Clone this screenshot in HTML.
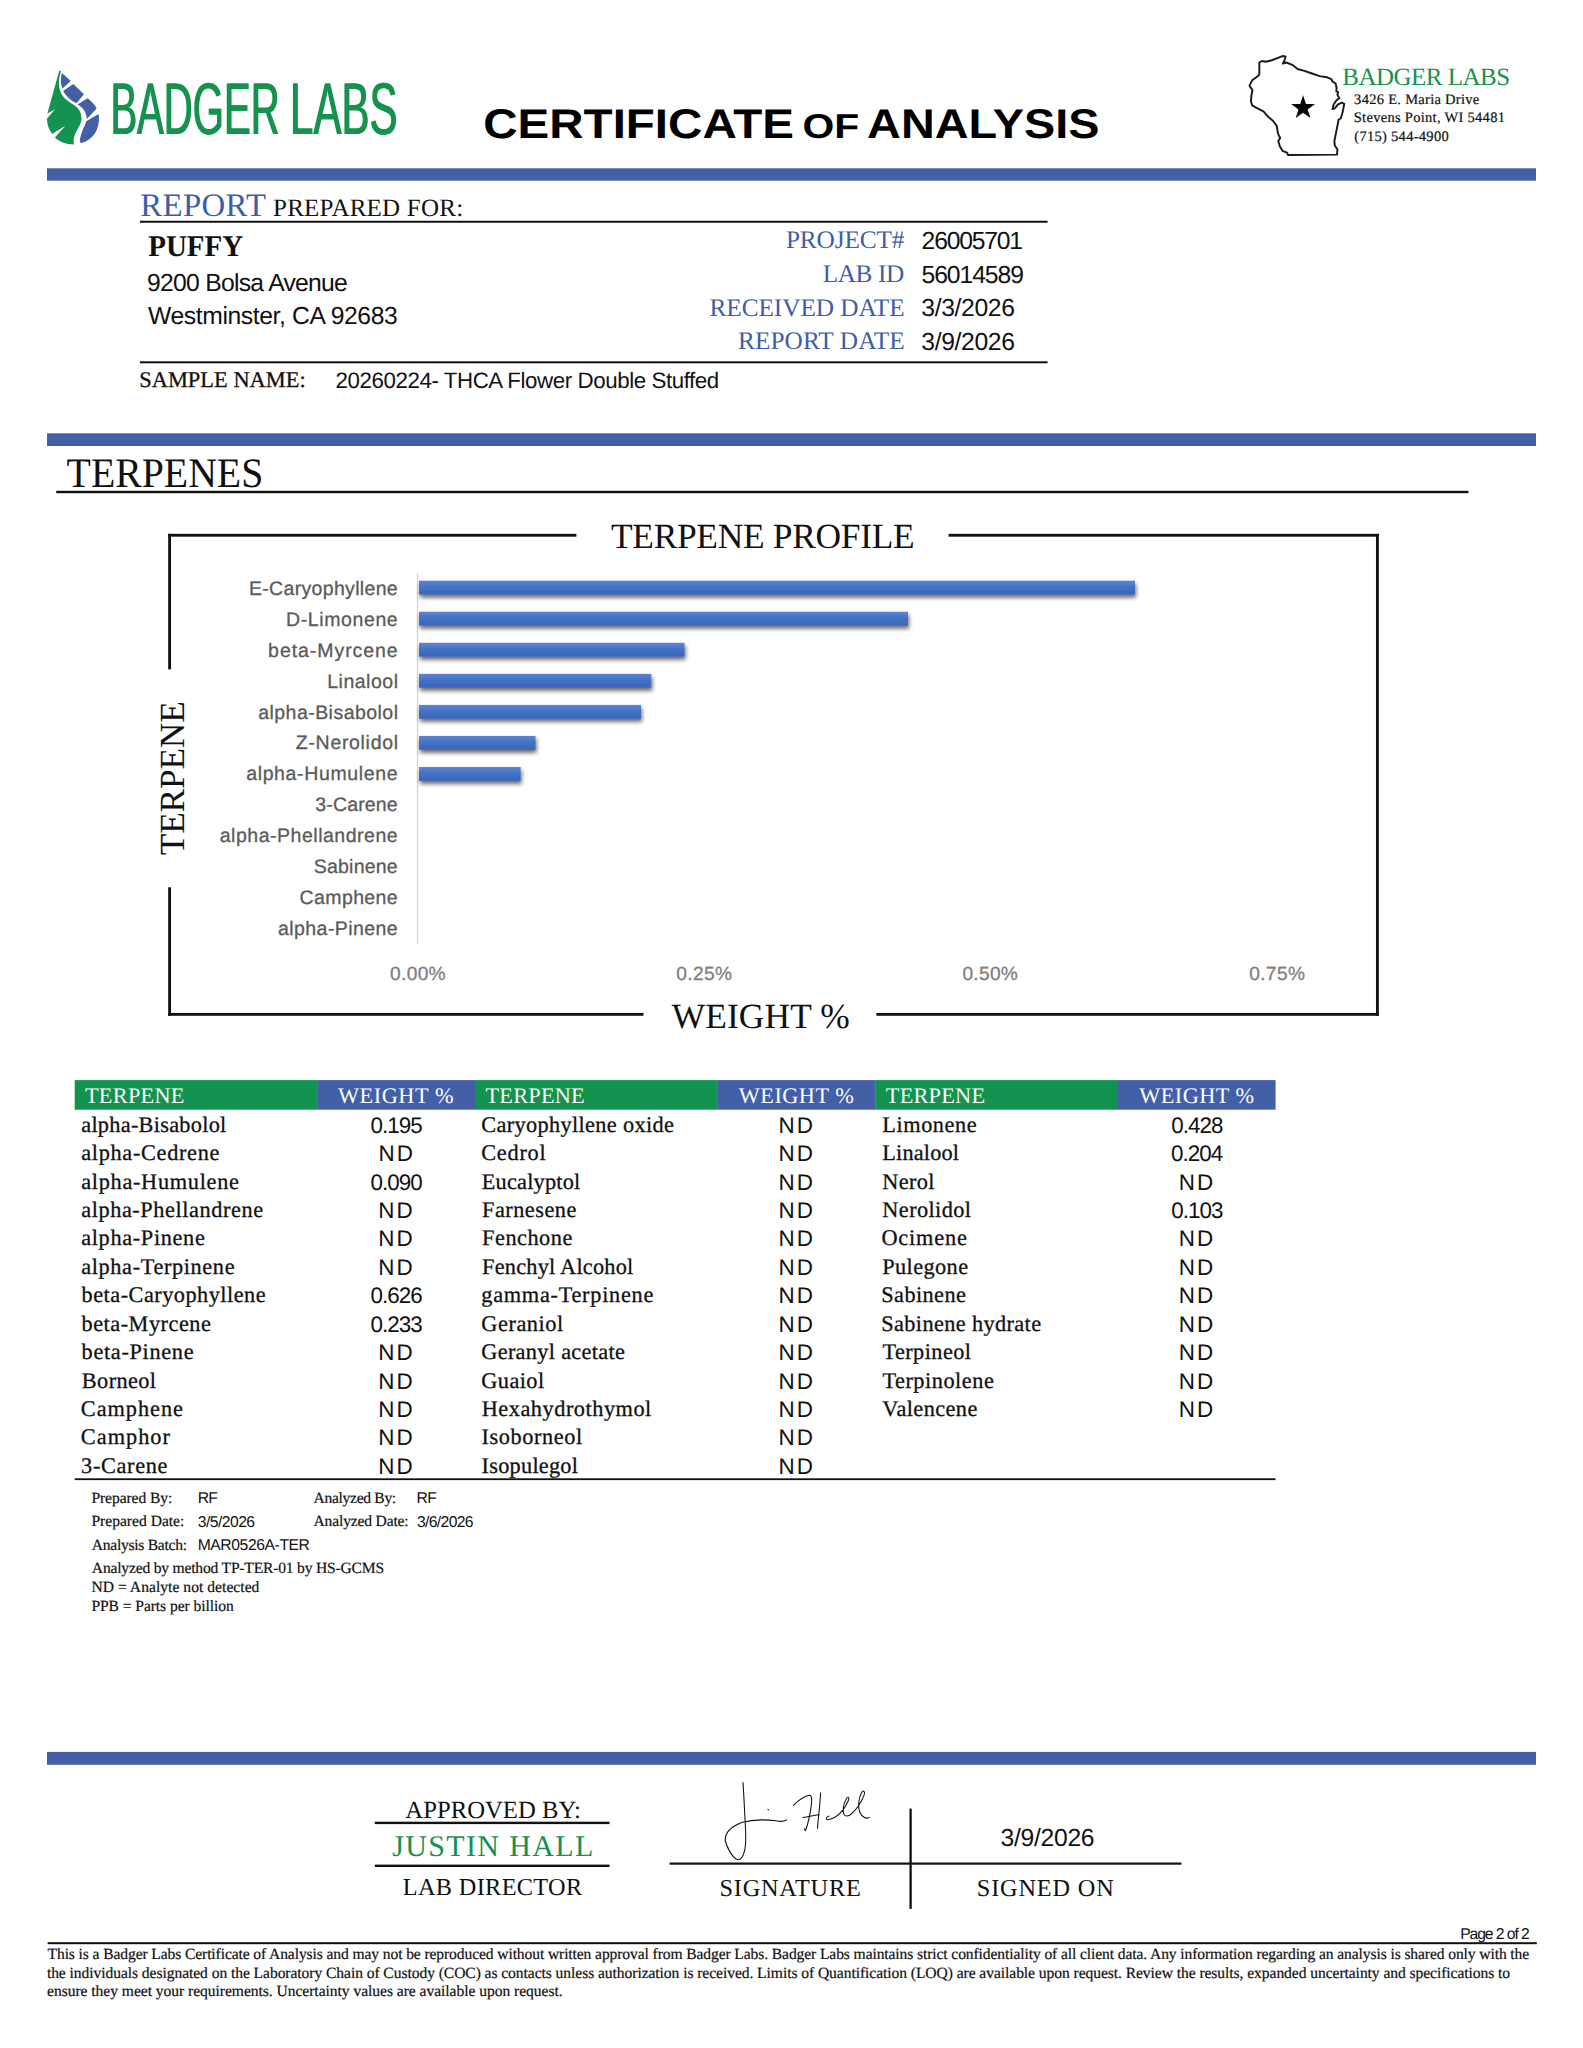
<!DOCTYPE html>
<html lang="en"><head><meta charset="utf-8"><title>Badger Labs - Certificate of Analysis</title>
<style>
html,body{margin:0;padding:0;background:#fff}
body{width:1583px;height:2048px;overflow:hidden}
svg{display:block}
text{white-space:pre;text-rendering:geometricPrecision}
</style></head><body>
<svg width="1583" height="2048" viewBox="0 0 1583 2048">
<defs>
<linearGradient id="bg" x1="0" y1="0" x2="0" y2="1"><stop offset="0" stop-color="#5d86d3"/><stop offset="0.45" stop-color="#4472c4"/><stop offset="1" stop-color="#3a66b9"/></linearGradient>
<filter id="sh" x="-5%" y="-50%" width="110%" height="250%"><feGaussianBlur in="SourceAlpha" stdDeviation="2.2"/><feOffset dx="0.5" dy="3.0" result="o"/><feComponentTransfer><feFuncA type="linear" slope="0.6"/></feComponentTransfer><feMerge><feMergeNode/><feMergeNode in="SourceGraphic"/></feMerge></filter>
<filter id="thick" x="-2%" y="-10%" width="104%" height="120%"><feOffset in="SourceGraphic" dx="1.9" dy="0" result="o"/><feMerge><feMergeNode in="o"/><feMergeNode in="SourceGraphic"/></feMerge></filter>
</defs>
<rect x="47" y="168.3" width="1489" height="12.4" fill="#4360a7"/>
<rect x="47" y="433.3" width="1489" height="12.7" fill="#4360a7"/>
<rect x="47" y="1751.9" width="1489" height="12.9" fill="#4360a7"/>
<rect x="139.9" y="220.75" width="907.70" height="2.0" fill="#111"/>
<rect x="139.9" y="361.30" width="907.70" height="2.0" fill="#111"/>
<rect x="56.2" y="490.80" width="1412.30" height="2.4" fill="#111"/>
<rect x="168.2" y="533.83" width="408.20" height="2.85" fill="#111"/>
<rect x="948.6" y="533.83" width="430.25" height="2.85" fill="#111"/>
<rect x="168.17" y="533.85" width="2.85" height="135.55" fill="#111"/>
<rect x="168.17" y="887.3" width="2.85" height="128.50" fill="#111"/>
<rect x="168.2" y="1012.93" width="475.30" height="2.85" fill="#111"/>
<rect x="876.4" y="1012.93" width="502.45" height="2.85" fill="#111"/>
<rect x="1375.98" y="533.85" width="2.85" height="481.95" fill="#111"/>
<rect x="416.85" y="572.8" width="1.3" height="371.20" fill="#d6d6d6"/>
<g filter="url(#sh)">
<rect x="419" y="580.70" width="716.02" height="13.9" fill="url(#bg)"/>
<rect x="419" y="611.75" width="489.07" height="13.9" fill="url(#bg)"/>
<rect x="419" y="642.80" width="265.56" height="13.9" fill="url(#bg)"/>
<rect x="419" y="673.85" width="232.32" height="13.9" fill="url(#bg)"/>
<rect x="419" y="704.90" width="222.01" height="13.9" fill="url(#bg)"/>
<rect x="419" y="735.95" width="116.56" height="13.9" fill="url(#bg)"/>
<rect x="419" y="767.00" width="101.66" height="13.9" fill="url(#bg)"/>
</g>
<rect x="74.70" y="1080.1" width="242.80" height="29.6" fill="#14924f"/>
<rect x="317.20" y="1080.1" width="158.10" height="29.6" fill="#4360a7"/>
<rect x="475.00" y="1080.1" width="242.80" height="29.6" fill="#14924f"/>
<rect x="717.50" y="1080.1" width="158.10" height="29.6" fill="#4360a7"/>
<rect x="875.30" y="1080.1" width="242.80" height="29.6" fill="#14924f"/>
<rect x="1117.80" y="1080.1" width="157.80" height="29.6" fill="#4360a7"/>
<rect x="74.7" y="1478.30" width="1200.80" height="1.8" fill="#111"/>
<rect x="374.8" y="1821.70" width="234.70" height="2.4" fill="#111"/>
<rect x="374.8" y="1864.60" width="234.70" height="2.4" fill="#111"/>
<rect x="669.6" y="1862.50" width="511.90" height="2.2" fill="#111"/>
<rect x="909.45" y="1808.6" width="2.3" height="100.30" fill="#111"/>
<rect x="47.6" y="1942.20" width="1489.20" height="2.0" fill="#111"/>
<g transform="translate(30,55) scale(0.063171)">
<path fill="#14924f" d="M465,240 L275,925 L395,858 L268,1008 C270,1100 300,1180 350,1250 L560,1118 L395,1305 C470,1380 580,1415 695,1415 C680,1340 700,1280 730,1220 C770,1140 815,1080 815,1000 C815,900 760,830 700,795 C620,745 540,690 500,620 C460,550 450,450 462,380 C470,330 480,290 490,262 Z"/>
<path fill="#4360a7" d="M505,285 L645,412 L515,532 C485,470 478,390 505,285 Z"/>
<path fill="#4360a7" d="M685,460 L855,620 L735,765 C640,720 570,650 525,570 Z"/>
<path fill="#4360a7" d="M910,685 C980,740 1030,790 1055,845 L900,1012 C890,900 840,830 752,782 Z"/>
<path fill="#4360a7" d="M1085,935 C1100,1000 1095,1080 1060,1180 C1020,1280 920,1370 810,1395 C780,1380 790,1330 810,1260 C840,1160 880,1100 890,1050 Z"/>
</g>
<g transform="translate(1240,50) scale(0.075815)">
<path d="M255,165 L290,145 L340,155 L420,135 L500,105 L560,80 L600,85 L590,130 L565,180 L610,165 L690,195 L760,250 L850,275 L950,310 L1050,345 L1150,360 L1205,385 L1220,415 L1260,440 L1275,500 L1270,545 L1295,555 L1285,590 L1310,635 L1270,665 L1235,720 L1220,780 L1250,770 L1290,720 L1340,695 L1375,710 L1360,790 L1345,850 L1330,900 L1300,920 L1285,1000 L1265,1100 L1245,1200 L1250,1260 L1285,1310 L1280,1380 L635,1385 L620,1355 L560,1330 L525,1270 L505,1200 L530,1160 L500,1100 L485,1000 L440,940 L360,870 L310,810 L230,770 L160,730 L145,680 L150,600 L165,530 L125,470 L160,400 L230,350 L255,320 L255,250 Z" fill="none" stroke="#1a1a1a" stroke-width="25.5" stroke-linejoin="round"/>
<polygon points="832.0,598.0 869.3,712.7 989.9,712.7 892.3,783.6 929.6,898.3 832.0,827.4 734.4,898.3 771.7,783.6 674.1,712.7 794.7,712.7" fill="#000"/>
</g>
<g transform="translate(700,1770) scale(0.126342)" fill="none" stroke="#111" stroke-width="8.5" stroke-linecap="round" stroke-linejoin="round">
<path d="M340,100 C348,200 352,320 358,420 C364,520 368,600 350,650 C338,690 320,712 300,710 C260,700 215,620 200,560 C195,500 240,450 330,415 C420,390 520,392 600,402 C640,410 670,405 685,395"/>
<path d="M538,312 L542,314"/>
<path d="M740,280 C780,240 830,205 865,200 C890,200 885,250 878,300 C868,370 850,440 835,480 L825,465"/>
<path d="M815,376 C860,368 900,360 942,354"/>
<path d="M955,180 C950,260 942,340 935,400 L930,460"/>
<path d="M1020,365 C1000,372 992,390 1008,394 C1030,392 1050,384 1065,376 C1110,352 1150,300 1175,240 C1185,215 1172,208 1160,225 C1135,265 1125,320 1140,352 C1150,370 1175,366 1195,350 C1240,312 1280,250 1300,195 C1308,165 1292,155 1278,180 C1255,225 1248,290 1265,335 C1280,370 1315,392 1340,375"/>
</g>
<g id="texts">
<text transform="translate(109.90,133.80) scale(0.5459,1)" filter="url(#thick)" style="font:400 73.4px 'Liberation Sans', sans-serif;fill:#14924f">BADGER</text>
<text transform="translate(289.53,133.80) scale(0.5725,1)" filter="url(#thick)" style="font:400 73.4px 'Liberation Sans', sans-serif;fill:#14924f">LABS</text>
<text transform="translate(483.27,138.10) scale(1.1481,1)" style="font:700 41.4px 'Liberation Sans', sans-serif;fill:#000">CERTIFICATE</text>
<text transform="translate(802.48,138.10) scale(1.1835,1)" style="font:700 34.5px 'Liberation Sans', sans-serif;fill:#000">OF</text>
<text transform="translate(867.08,138.10) scale(1.1313,1)" style="font:700 41.4px 'Liberation Sans', sans-serif;fill:#000">ANALYSIS</text>
<text x="1342.33" y="84.70" style="font:400 25.0px 'Liberation Serif', serif;fill:#14924f;letter-spacing:-0.521px">BADGER LABS</text>
<text x="1354.12" y="103.60" style="font:400 14.5px 'Liberation Serif', serif;fill:#111;stroke:#111;stroke-width:0.2px;letter-spacing:0.287px">3426 E. Maria Drive</text>
<text x="1353.72" y="122.00" style="font:400 14.5px 'Liberation Serif', serif;fill:#111;stroke:#111;stroke-width:0.2px;letter-spacing:0.296px">Stevens Point, WI 54481</text>
<text x="1354.27" y="140.90" style="font:400 14.5px 'Liberation Serif', serif;fill:#111;stroke:#111;stroke-width:0.2px;letter-spacing:0.292px">(715) 544-4900</text>
<text x="140.17" y="215.70" style="font:400 32.8px 'Liberation Serif', serif;fill:#3f5da7;letter-spacing:0.405px">REPORT</text>
<text x="273.00" y="215.70" style="font:400 25.0px 'Liberation Serif', serif;fill:#111;letter-spacing:0.230px">PREPARED FOR:</text>
<text transform="translate(148.20,255.80) scale(0.9667,1)" style="font:700 30.0px 'Liberation Serif', serif;fill:#111">PUFFY</text>
<text x="147.03" y="290.70" style="font:400 24.7px 'Liberation Sans', sans-serif;fill:#111;letter-spacing:-0.720px">9200 Bolsa Avenue</text>
<text x="147.98" y="323.50" style="font:400 24.7px 'Liberation Sans', sans-serif;fill:#111;letter-spacing:-0.385px">Westminster, CA 92683</text>
<text x="139.27" y="387.20" style="font:400 22.4px 'Liberation Serif', serif;fill:#111;stroke:#111;stroke-width:0.3px;letter-spacing:0.025px">SAMPLE NAME:</text>
<text x="335.57" y="388.20" style="font:400 22.3px 'Liberation Sans', sans-serif;fill:#111;letter-spacing:-0.418px">20260224- THCA Flower Double Stuffed</text>
<text x="785.96" y="248.30" style="font:400 25.3px 'Liberation Serif', serif;fill:#3f5da7;letter-spacing:-0.156px">PROJECT#</text>
<text x="822.70" y="282.10" style="font:400 25.3px 'Liberation Serif', serif;fill:#3f5da7;letter-spacing:-0.404px">LAB ID</text>
<text x="709.46" y="315.90" style="font:400 25.3px 'Liberation Serif', serif;fill:#3f5da7;letter-spacing:-0.070px">RECEIVED DATE</text>
<text x="737.96" y="349.40" style="font:400 25.3px 'Liberation Serif', serif;fill:#3f5da7;letter-spacing:0.071px">REPORT DATE</text>
<text x="921.61" y="249.00" style="font:400 24.7px 'Liberation Sans', sans-serif;fill:#111;letter-spacing:-1.209px">26005701</text>
<text x="921.56" y="282.80" style="font:400 24.7px 'Liberation Sans', sans-serif;fill:#111;letter-spacing:-1.076px">56014589</text>
<text x="921.34" y="316.20" style="font:400 24.7px 'Liberation Sans', sans-serif;fill:#111;letter-spacing:-0.362px">3/3/2026</text>
<text x="921.34" y="350.00" style="font:400 24.7px 'Liberation Sans', sans-serif;fill:#111;letter-spacing:-0.362px">3/9/2026</text>
<text transform="translate(66.59,487.10) scale(0.9471,1)" style="font:400 42.0px 'Liberation Serif', serif;fill:#111">TERPENES</text>
<text x="610.99" y="548.00" style="font:400 35.4px 'Liberation Serif', serif;fill:#111;letter-spacing:-0.286px">TERPENE PROFILE</text>
<text x="671.76" y="1027.70" style="font:400 35.4px 'Liberation Serif', serif;fill:#111;letter-spacing:0.103px">WEIGHT %</text>
<text transform="translate(184.10,854.60) rotate(-90)" x="-0.55" y="0" style="font:400 35.3px 'Liberation Serif', serif;fill:#111;letter-spacing:-0.177px">TERPENE</text>
<text x="248.96" y="594.80" style="font:400 19.5px 'Liberation Sans', sans-serif;fill:#5a5a5a;stroke:#5a5a5a;stroke-width:0.3px;letter-spacing:0.327px">E-Caryophyllene</text>
<text x="286.11" y="625.73" style="font:400 19.5px 'Liberation Sans', sans-serif;fill:#5a5a5a;stroke:#5a5a5a;stroke-width:0.3px;letter-spacing:0.593px">D-Limonene</text>
<text x="268.10" y="656.66" style="font:400 19.5px 'Liberation Sans', sans-serif;fill:#5a5a5a;stroke:#5a5a5a;stroke-width:0.3px;letter-spacing:0.942px">beta-Myrcene</text>
<text x="327.22" y="687.59" style="font:400 19.5px 'Liberation Sans', sans-serif;fill:#5a5a5a;stroke:#5a5a5a;stroke-width:0.3px;letter-spacing:0.509px">Linalool</text>
<text x="258.17" y="718.52" style="font:400 19.5px 'Liberation Sans', sans-serif;fill:#5a5a5a;stroke:#5a5a5a;stroke-width:0.3px;letter-spacing:0.465px">alpha-Bisabolol</text>
<text x="295.86" y="749.45" style="font:400 19.5px 'Liberation Sans', sans-serif;fill:#5a5a5a;stroke:#5a5a5a;stroke-width:0.3px;letter-spacing:0.680px">Z-Nerolidol</text>
<text x="246.17" y="780.38" style="font:400 19.5px 'Liberation Sans', sans-serif;fill:#5a5a5a;stroke:#5a5a5a;stroke-width:0.3px;letter-spacing:0.647px">alpha-Humulene</text>
<text x="315.25" y="811.31" style="font:400 19.5px 'Liberation Sans', sans-serif;fill:#5a5a5a;stroke:#5a5a5a;stroke-width:0.3px;letter-spacing:0.162px">3-Carene</text>
<text x="219.75" y="842.24" style="font:400 19.5px 'Liberation Sans', sans-serif;fill:#5a5a5a;stroke:#5a5a5a;stroke-width:0.3px;letter-spacing:0.517px">alpha-Phellandrene</text>
<text x="313.77" y="873.17" style="font:400 19.5px 'Liberation Sans', sans-serif;fill:#5a5a5a;stroke:#5a5a5a;stroke-width:0.3px;letter-spacing:0.214px">Sabinene</text>
<text x="299.62" y="904.10" style="font:400 19.5px 'Liberation Sans', sans-serif;fill:#5a5a5a;stroke:#5a5a5a;stroke-width:0.3px;letter-spacing:0.379px">Camphene</text>
<text x="278.05" y="935.03" style="font:400 19.5px 'Liberation Sans', sans-serif;fill:#5a5a5a;stroke:#5a5a5a;stroke-width:0.3px;letter-spacing:0.427px">alpha-Pinene</text>
<text x="390.09" y="980.40" style="font:400 19.15px 'Liberation Sans', sans-serif;fill:#7f7f7f;stroke:#7f7f7f;stroke-width:0.3px;letter-spacing:0.320px">0.00%</text>
<text x="676.15" y="980.40" style="font:400 19.15px 'Liberation Sans', sans-serif;fill:#7f7f7f;stroke:#7f7f7f;stroke-width:0.3px;letter-spacing:0.386px">0.25%</text>
<text x="962.39" y="980.40" style="font:400 19.15px 'Liberation Sans', sans-serif;fill:#7f7f7f;stroke:#7f7f7f;stroke-width:0.3px;letter-spacing:0.299px">0.50%</text>
<text x="1249.16" y="980.40" style="font:400 19.15px 'Liberation Sans', sans-serif;fill:#7f7f7f;stroke:#7f7f7f;stroke-width:0.3px;letter-spacing:0.371px">0.75%</text>
<text x="370.38" y="1132.80" style="font:400 22.4px 'Liberation Sans', sans-serif;fill:#111;letter-spacing:-0.938px">0.195</text>
<text x="378.45" y="1161.30" style="font:400 22.4px 'Liberation Sans', sans-serif;fill:#111;letter-spacing:2.095px">ND</text>
<text x="84.92" y="1103.40" style="font:400 22.3px 'Liberation Serif', serif;fill:#fff;letter-spacing:0.286px">TERPENE</text>
<text x="338.03" y="1103.40" style="font:400 22.3px 'Liberation Serif', serif;fill:#fff;letter-spacing:0.540px">WEIGHT %</text>
<text x="81.23" y="1131.80" style="font:400 22.3px 'Liberation Serif', serif;fill:#111;stroke:#111;stroke-width:0.3px;letter-spacing:0.278px">alpha-Bisabolol</text>
<text x="81.23" y="1160.22" style="font:400 22.3px 'Liberation Serif', serif;fill:#111;stroke:#111;stroke-width:0.3px;letter-spacing:0.685px">alpha-Cedrene</text>
<text x="81.23" y="1188.64" style="font:400 22.3px 'Liberation Serif', serif;fill:#111;stroke:#111;stroke-width:0.3px;letter-spacing:0.699px">alpha-Humulene</text>
<text x="370.48" y="1189.64" style="font:400 22.4px 'Liberation Sans', sans-serif;fill:#111;letter-spacing:-0.938px">0.090</text>
<text x="81.23" y="1217.06" style="font:400 22.3px 'Liberation Serif', serif;fill:#111;stroke:#111;stroke-width:0.3px;letter-spacing:0.572px">alpha-Phellandrene</text>
<text x="378.22" y="1218.06" style="font:400 22.4px 'Liberation Sans', sans-serif;fill:#111;letter-spacing:2.095px">ND</text>
<text x="81.23" y="1245.48" style="font:400 22.3px 'Liberation Serif', serif;fill:#111;stroke:#111;stroke-width:0.3px;letter-spacing:0.651px">alpha-Pinene</text>
<text x="378.22" y="1246.48" style="font:400 22.4px 'Liberation Sans', sans-serif;fill:#111;letter-spacing:2.095px">ND</text>
<text x="81.23" y="1273.90" style="font:400 22.3px 'Liberation Serif', serif;fill:#111;stroke:#111;stroke-width:0.3px;letter-spacing:0.628px">alpha-Terpinene</text>
<text x="378.22" y="1274.90" style="font:400 22.4px 'Liberation Sans', sans-serif;fill:#111;letter-spacing:2.095px">ND</text>
<text x="81.60" y="1302.32" style="font:400 22.3px 'Liberation Serif', serif;fill:#111;stroke:#111;stroke-width:0.3px;letter-spacing:0.478px">beta-Caryophyllene</text>
<text x="370.53" y="1303.32" style="font:400 22.4px 'Liberation Sans', sans-serif;fill:#111;letter-spacing:-0.938px">0.626</text>
<text x="81.60" y="1330.74" style="font:400 22.3px 'Liberation Serif', serif;fill:#111;stroke:#111;stroke-width:0.3px;letter-spacing:0.492px">beta-Myrcene</text>
<text x="370.53" y="1331.74" style="font:400 22.4px 'Liberation Sans', sans-serif;fill:#111;letter-spacing:-0.938px">0.233</text>
<text x="81.60" y="1359.16" style="font:400 22.3px 'Liberation Serif', serif;fill:#111;stroke:#111;stroke-width:0.3px;letter-spacing:0.670px">beta-Pinene</text>
<text x="378.22" y="1360.16" style="font:400 22.4px 'Liberation Sans', sans-serif;fill:#111;letter-spacing:2.095px">ND</text>
<text x="81.86" y="1387.58" style="font:400 22.3px 'Liberation Serif', serif;fill:#111;stroke:#111;stroke-width:0.3px;letter-spacing:0.385px">Borneol</text>
<text x="378.22" y="1388.58" style="font:400 22.4px 'Liberation Sans', sans-serif;fill:#111;letter-spacing:2.095px">ND</text>
<text x="80.85" y="1416.00" style="font:400 22.3px 'Liberation Serif', serif;fill:#111;stroke:#111;stroke-width:0.3px;letter-spacing:0.956px">Camphene</text>
<text x="378.22" y="1417.00" style="font:400 22.4px 'Liberation Sans', sans-serif;fill:#111;letter-spacing:2.095px">ND</text>
<text x="80.85" y="1444.42" style="font:400 22.3px 'Liberation Serif', serif;fill:#111;stroke:#111;stroke-width:0.3px;letter-spacing:1.010px">Camphor</text>
<text x="378.22" y="1445.42" style="font:400 22.4px 'Liberation Sans', sans-serif;fill:#111;letter-spacing:2.095px">ND</text>
<text x="81.10" y="1472.84" style="font:400 22.3px 'Liberation Serif', serif;fill:#111;stroke:#111;stroke-width:0.3px;letter-spacing:0.663px">3-Carene</text>
<text x="378.22" y="1473.84" style="font:400 22.4px 'Liberation Sans', sans-serif;fill:#111;letter-spacing:2.095px">ND</text>
<text x="485.42" y="1103.40" style="font:400 22.3px 'Liberation Serif', serif;fill:#fff;letter-spacing:0.240px">TERPENE</text>
<text x="738.78" y="1103.40" style="font:400 22.3px 'Liberation Serif', serif;fill:#fff;letter-spacing:0.476px">WEIGHT %</text>
<text x="481.24" y="1131.80" style="font:400 22.3px 'Liberation Serif', serif;fill:#111;stroke:#111;stroke-width:0.3px;letter-spacing:0.349px">Caryophyllene oxide</text>
<text x="778.52" y="1132.80" style="font:400 22.4px 'Liberation Sans', sans-serif;fill:#111;letter-spacing:2.095px">ND</text>
<text x="481.24" y="1160.22" style="font:400 22.3px 'Liberation Serif', serif;fill:#111;stroke:#111;stroke-width:0.3px;letter-spacing:0.758px">Cedrol</text>
<text x="778.52" y="1161.22" style="font:400 22.4px 'Liberation Sans', sans-serif;fill:#111;letter-spacing:2.095px">ND</text>
<text x="481.74" y="1188.64" style="font:400 22.3px 'Liberation Serif', serif;fill:#111;stroke:#111;stroke-width:0.3px;letter-spacing:0.209px">Eucalyptol</text>
<text x="778.52" y="1189.64" style="font:400 22.4px 'Liberation Sans', sans-serif;fill:#111;letter-spacing:2.095px">ND</text>
<text x="482.07" y="1217.06" style="font:400 22.3px 'Liberation Serif', serif;fill:#111;stroke:#111;stroke-width:0.3px;letter-spacing:0.483px">Farnesene</text>
<text x="778.52" y="1218.06" style="font:400 22.4px 'Liberation Sans', sans-serif;fill:#111;letter-spacing:2.095px">ND</text>
<text x="482.07" y="1245.48" style="font:400 22.3px 'Liberation Serif', serif;fill:#111;stroke:#111;stroke-width:0.3px;letter-spacing:0.510px">Fenchone</text>
<text x="778.52" y="1246.48" style="font:400 22.4px 'Liberation Sans', sans-serif;fill:#111;letter-spacing:2.095px">ND</text>
<text x="482.07" y="1273.90" style="font:400 22.3px 'Liberation Serif', serif;fill:#111;stroke:#111;stroke-width:0.3px;letter-spacing:0.230px">Fenchyl Alcohol</text>
<text x="778.52" y="1274.90" style="font:400 22.4px 'Liberation Sans', sans-serif;fill:#111;letter-spacing:2.095px">ND</text>
<text x="481.25" y="1302.32" style="font:400 22.3px 'Liberation Serif', serif;fill:#111;stroke:#111;stroke-width:0.3px;letter-spacing:0.729px">gamma-Terpinene</text>
<text x="778.52" y="1303.32" style="font:400 22.4px 'Liberation Sans', sans-serif;fill:#111;letter-spacing:2.095px">ND</text>
<text x="481.25" y="1330.74" style="font:400 22.3px 'Liberation Serif', serif;fill:#111;stroke:#111;stroke-width:0.3px;letter-spacing:0.569px">Geraniol</text>
<text x="778.52" y="1331.74" style="font:400 22.4px 'Liberation Sans', sans-serif;fill:#111;letter-spacing:2.095px">ND</text>
<text x="481.25" y="1359.16" style="font:400 22.3px 'Liberation Serif', serif;fill:#111;stroke:#111;stroke-width:0.3px;letter-spacing:0.315px">Geranyl acetate</text>
<text x="778.52" y="1360.16" style="font:400 22.4px 'Liberation Sans', sans-serif;fill:#111;letter-spacing:2.095px">ND</text>
<text x="481.25" y="1387.58" style="font:400 22.3px 'Liberation Serif', serif;fill:#111;stroke:#111;stroke-width:0.3px;letter-spacing:0.439px">Guaiol</text>
<text x="778.52" y="1388.58" style="font:400 22.4px 'Liberation Sans', sans-serif;fill:#111;letter-spacing:2.095px">ND</text>
<text x="481.74" y="1416.00" style="font:400 22.3px 'Liberation Serif', serif;fill:#111;stroke:#111;stroke-width:0.3px;letter-spacing:0.522px">Hexahydrothymol</text>
<text x="778.52" y="1417.00" style="font:400 22.4px 'Liberation Sans', sans-serif;fill:#111;letter-spacing:2.095px">ND</text>
<text x="481.62" y="1444.42" style="font:400 22.3px 'Liberation Serif', serif;fill:#111;stroke:#111;stroke-width:0.3px;letter-spacing:0.580px">Isoborneol</text>
<text x="778.52" y="1445.42" style="font:400 22.4px 'Liberation Sans', sans-serif;fill:#111;letter-spacing:2.095px">ND</text>
<text x="481.62" y="1472.84" style="font:400 22.3px 'Liberation Serif', serif;fill:#111;stroke:#111;stroke-width:0.3px;letter-spacing:0.247px">Isopulegol</text>
<text x="778.52" y="1473.84" style="font:400 22.4px 'Liberation Sans', sans-serif;fill:#111;letter-spacing:2.095px">ND</text>
<text x="885.79" y="1103.40" style="font:400 22.3px 'Liberation Serif', serif;fill:#fff;letter-spacing:0.238px">TERPENE</text>
<text x="1139.19" y="1103.40" style="font:400 22.3px 'Liberation Serif', serif;fill:#fff;letter-spacing:0.459px">WEIGHT %</text>
<text x="882.35" y="1131.80" style="font:400 22.3px 'Liberation Serif', serif;fill:#111;stroke:#111;stroke-width:0.3px;letter-spacing:0.542px">Limonene</text>
<text x="1171.13" y="1132.80" style="font:400 22.4px 'Liberation Sans', sans-serif;fill:#111;letter-spacing:-0.938px">0.428</text>
<text x="882.35" y="1160.22" style="font:400 22.3px 'Liberation Serif', serif;fill:#111;stroke:#111;stroke-width:0.3px;letter-spacing:0.159px">Linalool</text>
<text x="1170.93" y="1161.22" style="font:400 22.4px 'Liberation Sans', sans-serif;fill:#111;letter-spacing:-0.938px">0.204</text>
<text x="882.35" y="1188.64" style="font:400 22.3px 'Liberation Serif', serif;fill:#111;stroke:#111;stroke-width:0.3px;letter-spacing:0.321px">Nerol</text>
<text x="1178.82" y="1189.64" style="font:400 22.4px 'Liberation Sans', sans-serif;fill:#111;letter-spacing:2.095px">ND</text>
<text x="882.35" y="1217.06" style="font:400 22.3px 'Liberation Serif', serif;fill:#111;stroke:#111;stroke-width:0.3px;letter-spacing:0.395px">Nerolidol</text>
<text x="1171.13" y="1218.06" style="font:400 22.4px 'Liberation Sans', sans-serif;fill:#111;letter-spacing:-0.938px">0.103</text>
<text x="881.39" y="1245.48" style="font:400 22.3px 'Liberation Serif', serif;fill:#111;stroke:#111;stroke-width:0.3px;letter-spacing:0.838px">Ocimene</text>
<text x="1178.82" y="1246.48" style="font:400 22.4px 'Liberation Sans', sans-serif;fill:#111;letter-spacing:2.095px">ND</text>
<text x="882.26" y="1273.90" style="font:400 22.3px 'Liberation Serif', serif;fill:#111;stroke:#111;stroke-width:0.3px;letter-spacing:0.403px">Pulegone</text>
<text x="1178.82" y="1274.90" style="font:400 22.4px 'Liberation Sans', sans-serif;fill:#111;letter-spacing:2.095px">ND</text>
<text x="881.27" y="1302.32" style="font:400 22.3px 'Liberation Serif', serif;fill:#111;stroke:#111;stroke-width:0.3px;letter-spacing:0.413px">Sabinene</text>
<text x="1178.82" y="1303.32" style="font:400 22.4px 'Liberation Sans', sans-serif;fill:#111;letter-spacing:2.095px">ND</text>
<text x="881.27" y="1330.74" style="font:400 22.3px 'Liberation Serif', serif;fill:#111;stroke:#111;stroke-width:0.3px;letter-spacing:0.375px">Sabinene hydrate</text>
<text x="1178.82" y="1331.74" style="font:400 22.4px 'Liberation Sans', sans-serif;fill:#111;letter-spacing:2.095px">ND</text>
<text x="882.43" y="1359.16" style="font:400 22.3px 'Liberation Serif', serif;fill:#111;stroke:#111;stroke-width:0.3px;letter-spacing:0.432px">Terpineol</text>
<text x="1178.82" y="1360.16" style="font:400 22.4px 'Liberation Sans', sans-serif;fill:#111;letter-spacing:2.095px">ND</text>
<text x="882.43" y="1387.58" style="font:400 22.3px 'Liberation Serif', serif;fill:#111;stroke:#111;stroke-width:0.3px;letter-spacing:0.522px">Terpinolene</text>
<text x="1178.82" y="1388.58" style="font:400 22.4px 'Liberation Sans', sans-serif;fill:#111;letter-spacing:2.095px">ND</text>
<text x="882.37" y="1416.00" style="font:400 22.3px 'Liberation Serif', serif;fill:#111;stroke:#111;stroke-width:0.3px;letter-spacing:0.419px">Valencene</text>
<text x="1178.82" y="1417.00" style="font:400 22.4px 'Liberation Sans', sans-serif;fill:#111;letter-spacing:2.095px">ND</text>
<text x="91.42" y="1502.50" style="font:400 15.6px 'Liberation Serif', serif;fill:#111;stroke:#111;stroke-width:0.2px;letter-spacing:-0.082px">Prepared By:</text>
<text x="197.65" y="1502.80" style="font:400 15.7px 'Liberation Sans', sans-serif;fill:#111;letter-spacing:-0.669px">RF</text>
<text x="313.50" y="1502.50" style="font:400 15.6px 'Liberation Serif', serif;fill:#111;stroke:#111;stroke-width:0.2px;letter-spacing:-0.316px">Analyzed By:</text>
<text x="416.50" y="1502.80" style="font:400 15.7px 'Liberation Sans', sans-serif;fill:#111;letter-spacing:-0.458px">RF</text>
<text x="91.42" y="1526.20" style="font:400 15.6px 'Liberation Serif', serif;fill:#111;stroke:#111;stroke-width:0.2px;letter-spacing:-0.010px">Prepared Date:</text>
<text x="197.86" y="1526.50" style="font:400 15.7px 'Liberation Sans', sans-serif;fill:#111;letter-spacing:-0.551px">3/5/2026</text>
<text x="313.50" y="1526.20" style="font:400 15.6px 'Liberation Serif', serif;fill:#111;stroke:#111;stroke-width:0.2px;letter-spacing:-0.171px">Analyzed Date:</text>
<text x="416.95" y="1526.50" style="font:400 15.7px 'Liberation Sans', sans-serif;fill:#111;letter-spacing:-0.634px">3/6/2026</text>
<text x="91.85" y="1549.60" style="font:400 15.6px 'Liberation Serif', serif;fill:#111;stroke:#111;stroke-width:0.2px;letter-spacing:-0.288px">Analysis Batch:</text>
<text x="197.65" y="1549.80" style="font:400 15.7px 'Liberation Sans', sans-serif;fill:#111;letter-spacing:-0.411px">MAR0526A-TER</text>
<text x="91.85" y="1573.30" style="font:400 15.6px 'Liberation Serif', serif;fill:#111;stroke:#111;stroke-width:0.2px;letter-spacing:-0.200px">Analyzed by method TP-TER-01 by HS-GCMS</text>
<text x="91.49" y="1591.90" style="font:400 15.6px 'Liberation Serif', serif;fill:#111;stroke:#111;stroke-width:0.2px;letter-spacing:0.026px">ND = Analyte not detected</text>
<text x="91.42" y="1610.60" style="font:400 15.6px 'Liberation Serif', serif;fill:#111;stroke:#111;stroke-width:0.2px;letter-spacing:-0.074px">PPB = Parts per billion</text>
<text x="405.36" y="1817.60" style="font:400 24.7px 'Liberation Serif', serif;fill:#111;letter-spacing:0.011px">APPROVED BY:</text>
<text x="392.27" y="1855.70" style="font:400 30.0px 'Liberation Serif', serif;fill:#14924f;letter-spacing:1.352px">JUSTIN HALL</text>
<text x="402.80" y="1895.20" style="font:400 24.3px 'Liberation Serif', serif;fill:#111;letter-spacing:0.332px">LAB DIRECTOR</text>
<text x="719.49" y="1895.50" style="font:400 24.3px 'Liberation Serif', serif;fill:#111;letter-spacing:0.781px">SIGNATURE</text>
<text x="976.85" y="1895.70" style="font:400 24.3px 'Liberation Serif', serif;fill:#111;letter-spacing:0.824px">SIGNED ON</text>
<text x="1000.44" y="1845.70" style="font:400 24.7px 'Liberation Sans', sans-serif;fill:#111;letter-spacing:-0.280px">3/9/2026</text>
<text x="1460.13" y="1938.90" style="font:400 15.7px 'Liberation Sans', sans-serif;fill:#111;letter-spacing:-1.069px">Page 2 of 2</text>
<text x="47.54" y="1959.20" style="font:400 15.6px 'Liberation Serif', serif;fill:#111;stroke:#111;stroke-width:0.2px;letter-spacing:-0.111px">This is a Badger Labs Certificate of Analysis and may not be reproduced without written approval from Badger Labs. Badger Labs maintains strict confidentiality of all client data. Any information regarding an analysis is shared only with the</text>
<text x="46.89" y="1977.60" style="font:400 15.6px 'Liberation Serif', serif;fill:#111;stroke:#111;stroke-width:0.2px;letter-spacing:-0.072px">the individuals designated on the Laboratory Chain of Custody (COC) as contacts unless authorization is received. Limits of Quantification (LOQ) are available upon request. Review the results, expanded uncertainty and specifications to</text>
<text x="47.05" y="1996.30" style="font:400 15.6px 'Liberation Serif', serif;fill:#111;stroke:#111;stroke-width:0.2px;letter-spacing:-0.049px">ensure they meet your requirements. Uncertainty values are available upon request.</text>
</g>
</svg>
</body></html>
